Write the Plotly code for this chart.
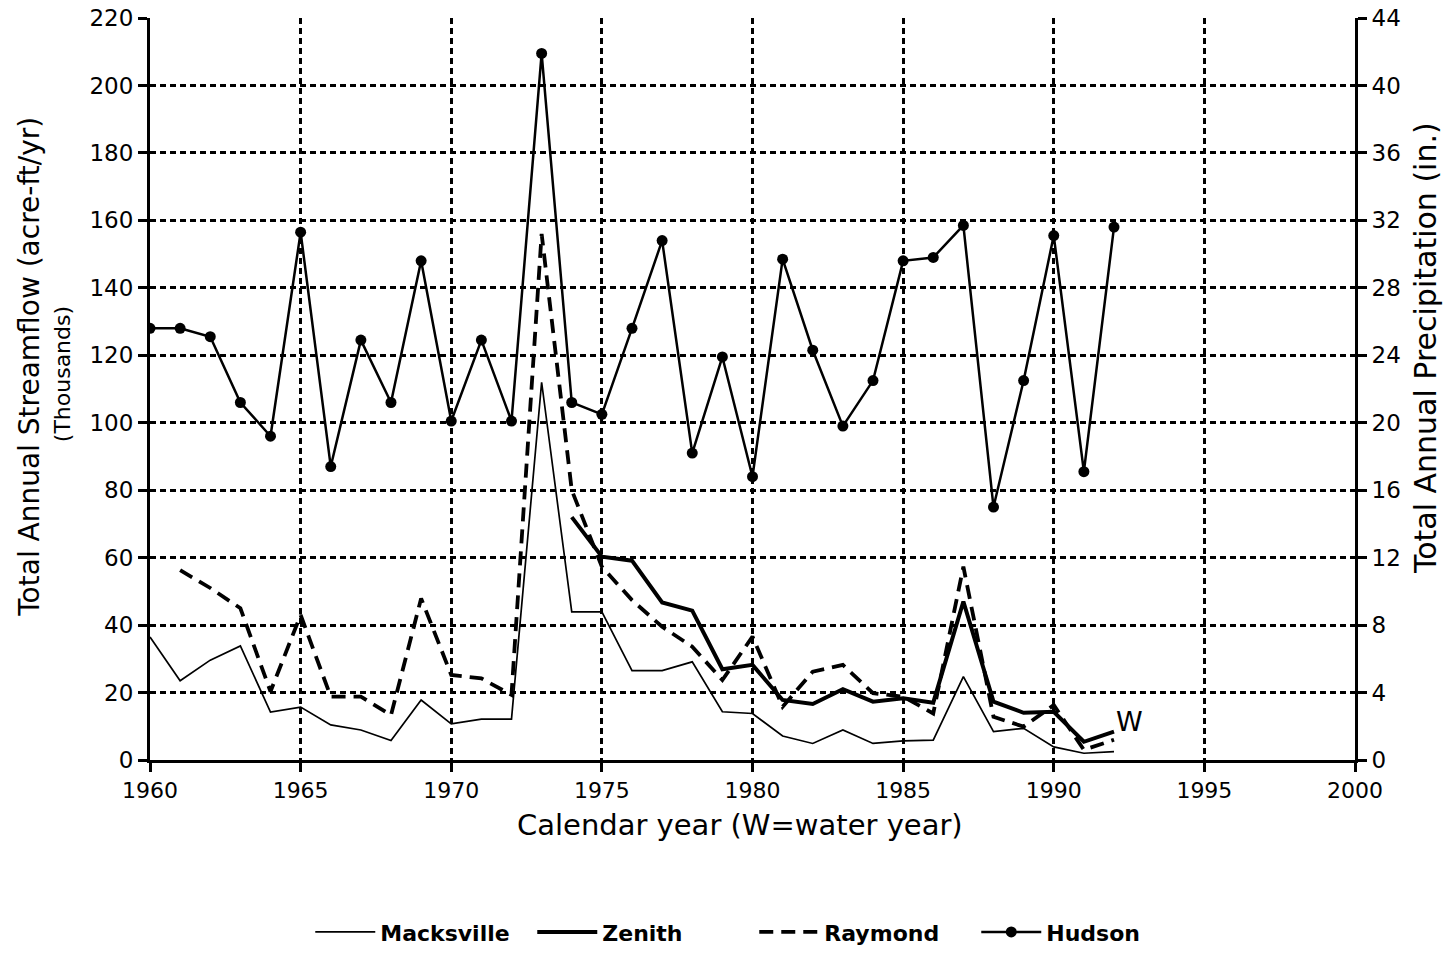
import plotly.graph_objects as go

years = list(range(1960, 1993))

macksville = [36.5, 23.5, 29.6, 33.8, 14.2, 15.7, 10.4, 8.9, 5.8, 17.8, 10.7, 12.1, 12.1,
              112.0, 43.9, 43.9, 26.5, 26.5, 29.1, 14.3, 13.8, 7.1, 4.9, 8.9, 4.9, 5.7,
              5.9, 24.7, 8.4, 9.4, 3.9, 2.0, 2.5]

zenith_years = list(range(1974, 1993))
zenith = [72.0, 60.3, 59.1, 46.7, 44.3, 26.9, 28.2, 17.8, 16.6, 21.0, 17.3, 18.3,
          17.0, 47.0, 17.3, 14.0, 14.3, 5.4, 8.4]

raymond_years = list(range(1961, 1993))
raymond = [56.3, 51.0, 45.0, 20.3, 43.0, 18.8, 18.8, 13.3, 47.9, 25.2, 24.2, 19.3,
           156.0, 80.0, 57.3, 47.4, 39.5, 33.6, 23.7, 36.6, 15.8, 26.2, 28.2, 19.8,
           18.8, 13.8, 57.3, 12.8, 9.9, 16.3, 3.0, 6.0]

hudson_precip = [25.6, 25.6, 25.1, 21.2, 19.2, 31.3, 17.4, 24.9, 21.2, 29.6, 20.1, 24.9,
                 20.1, 41.9, 21.2, 20.5, 25.6, 30.8, 18.2, 23.9, 16.8, 29.7, 24.3, 19.8,
                 22.5, 29.6, 29.8, 31.7, 15.0, 22.5, 31.1, 17.1, 31.6]

FONT = "DejaVu Sans, Verdana, sans-serif"

fig = go.Figure()
fig.add_trace(go.Scatter(x=years, y=macksville, mode="lines", name="Macksville",
                         line=dict(color="black", width=1.7)))
fig.add_trace(go.Scatter(x=zenith_years, y=zenith, mode="lines", name="Zenith",
                         line=dict(color="black", width=4)))
fig.add_trace(go.Scatter(x=raymond_years, y=raymond, mode="lines", name="Raymond",
                         line=dict(color="black", width=3.8, dash="14px,8px")))
fig.add_trace(go.Scatter(x=years, y=hudson_precip, mode="lines+markers", name="Hudson",
                         yaxis="y2",
                         line=dict(color="black", width=2.5),
                         marker=dict(color="black", size=11, symbol="circle")))

fig.add_annotation(x=1992.0, y=11.5, xref="x", yref="y", text="W", showarrow=False,
                   xanchor="left", yanchor="middle",
                   font=dict(family=FONT, size=27, color="black"))

# axis titles
fig.add_annotation(x=-0.0996, y=0.53, xref="paper", yref="paper",
                   text="Total Annual Streamflow (acre-ft/yr)", textangle=-90,
                   showarrow=False, xanchor="center", yanchor="middle",
                   font=dict(family=FONT, size=28, color="black"))
fig.add_annotation(x=-0.073, y=0.52, xref="paper", yref="paper",
                   text="(Thousands)", textangle=-90,
                   showarrow=False, xanchor="center", yanchor="middle",
                   font=dict(family=FONT, size=22, color="black"))
fig.add_annotation(x=1.058, y=0.555, xref="paper", yref="paper",
                   text="Total Annual Precipitation (in.)", textangle=-90,
                   showarrow=False, xanchor="center", yanchor="middle",
                   font=dict(family=FONT, size=30, color="black"))
fig.add_annotation(x=0.49, y=-0.088, xref="paper", yref="paper",
                   text="Calendar year (W=water year)",
                   showarrow=False, xanchor="center", yanchor="middle",
                   font=dict(family=FONT, size=29, color="black"))

grid = dict(showgrid=True, gridcolor="black", gridwidth=2.6, griddash="6px,4px")

fig.update_layout(
    width=1453, height=961,
    margin=dict(l=150, r=98, t=18, b=201, autoexpand=False),
    paper_bgcolor="white", plot_bgcolor="white",
    font=dict(family=FONT, color="black"),
    showlegend=True,
    legend=dict(orientation="h", x=0.133, y=-0.232, xanchor="left", yanchor="middle",
                font=dict(family=FONT, size=22, color="black", weight="bold"),
                itemwidth=60, entrywidth=147, traceorder="normal",
                bgcolor="rgba(0,0,0,0)"),
    xaxis=dict(range=[1960, 2000], tickmode="linear", tick0=1960, dtick=5,
               showline=True, linecolor="black", linewidth=3,
               ticks="outside", ticklen=9, tickwidth=2.5, tickcolor="black",
               tickfont=dict(family=FONT, size=22, color="black"),
               zeroline=False, **grid),
    yaxis=dict(range=[0, 220], tickmode="linear", tick0=0, dtick=20,
               showline=True, linecolor="black", linewidth=3,
               ticks="outside", ticklen=9, tickwidth=2.5, tickcolor="black",
               tickfont=dict(family=FONT, size=23, color="black"),
               zeroline=False, **grid),
    yaxis2=dict(range=[0, 44], tickmode="linear", tick0=0, dtick=4,
                overlaying="y", side="right",
                showline=True, linecolor="black", linewidth=3,
                ticks="outside", ticklen=9, tickwidth=2.5, tickcolor="black",
                tickfont=dict(family=FONT, size=23, color="black"),
                showgrid=False, zeroline=False),
)

fig.write_html("out.html")
